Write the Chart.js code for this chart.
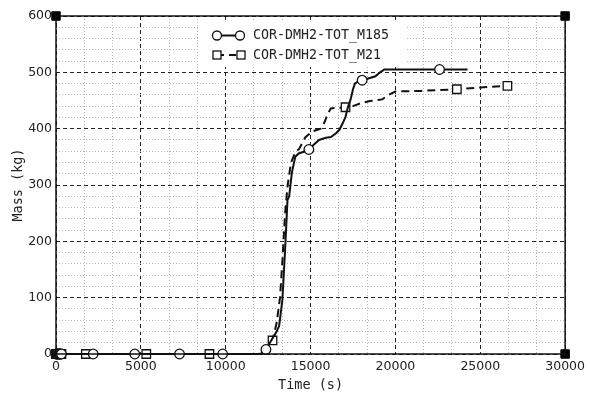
<!DOCTYPE html>
<html>
<head>
<meta charset="utf-8">
<script src="https://cdn.jsdelivr.net/npm/chart.js@4.4.0/dist/chart.umd.min.js"></script>
<style>
  html, body { margin: 0; padding: 0; background: #fff; }
  #wrap { width: 590px; height: 394px; }
</style>
</head>
<body>
<div id="wrap"><canvas id="mass-chart"></canvas></div>
<script>
// hydrogen mass curves, time in s, mass in kg
const seriesNames = ['COR-DMH2-TOT_M185', 'COR-DMH2-TOT_M21'];

const m185Time = [0, 40, 80, 120, 160, 200, 240, 280, 320, 2190, 4640, 7280, 9820, 11900, 12100, 12370, 12700,
    13000, 13150, 13340, 13500, 13640, 13740, 13900, 14100, 14300, 14600, 14900, 15200, 15500, 15900, 16200,
    16500, 16700, 16900, 17060, 17200, 17360, 17500, 17610, 17800, 18040, 18400, 18820, 19100, 19350, 22600, 24250];
const m185Mass = [0, 0, 0, 0, 0, 0, 0, 0, 0, 0, 0, 0, 0, 0, 1, 8, 25,
    40, 50, 96, 185, 273, 280, 322, 350, 356, 359, 363, 372, 380, 384, 385,
    392, 398, 410, 421, 438, 452, 470, 480, 484, 486, 489, 493, 500, 505, 505, 505];
const m185Markers = [0, 40, 80, 120, 160, 200, 240, 280, 320, 2190, 4640, 7280, 9820, 12370, 14900, 18040, 22600];

const m21Time = [0, 40, 80, 120, 160, 200, 240, 280, 320, 1760, 5320, 9040, 11950, 12200, 12500, 12760, 13000,
    13200, 13350, 13500, 13650, 13850, 14100, 14325, 14700, 15100, 15600, 15800, 16000, 16190, 16600, 17060,
    17500, 18040, 18500, 19220, 19600, 20000, 21500, 23620, 25000, 26600];
const m21Mass = [0, 0, 0, 0, 0, 0, 0, 0, 0, 0, 0, 0, 0, 2, 10, 24, 55,
    100, 170, 250, 300, 340, 358, 364, 385, 395, 400, 410, 425, 436, 437, 438,
    440, 446, 449, 452, 460, 466, 467, 470, 473, 476];
const m21Markers = [0, 40, 80, 120, 160, 200, 240, 280, 320, 1760, 5320, 9040, 12760, 17060, 23620, 26600];

// axis frame corners
const frameX = [0, 0, 30000, 30000];
const frameY = [0, 600, 600, 0];

const xMax = 30000, xMajor = 5000, xMinorPerMajor = 3;
const yMax = 600, yMajor = 100, yMinor = 20;

const toPoints = (xs, ys) => xs.map((x, i) => ({ x: x, y: ys[i] }));
const markerRadius = (marks, r) => ctx => (ctx.raw && marks.includes(ctx.raw.x)) ? r : 0;

const frame = {
    id: 'frame',
    afterDatasetsDraw(chart) {
        const { ctx, chartArea: a } = chart;
        ctx.save();
        ctx.strokeStyle = '#111';
        ctx.lineWidth = 1.5;
        ctx.strokeRect(a.left, a.top, a.right - a.left, a.bottom - a.top);
        ctx.restore();
    }
};

const keyBox = {
    id: 'keyBox',
    afterDraw(chart) {
        const ctx = chart.ctx;
        ctx.save();
        ctx.fillStyle = '#fff';
        ctx.fillRect(200, 22, 206, 45);
        ctx.strokeStyle = '#111';
        ctx.lineWidth = 2;
        // solid row
        ctx.beginPath();
        ctx.moveTo(217, 35.5); ctx.lineTo(240, 35.5);
        ctx.stroke();
        // dashed row
        ctx.setLineDash([7, 5]);
        ctx.beginPath();
        ctx.moveTo(217, 55); ctx.lineTo(241, 55);
        ctx.stroke();
        ctx.setLineDash([]);
        ctx.lineWidth = 1.3;
        ctx.fillStyle = '#fff';
        [217, 240].forEach(x => {
            ctx.beginPath();
            ctx.arc(x, 35.5, 4.5, 0, Math.PI * 2);
            ctx.fill(); ctx.stroke();
        });
        [217, 241].forEach(x => {
            ctx.fillRect(x - 4, 51, 8, 8);
            ctx.strokeRect(x - 4, 51, 8, 8);
        });
        ctx.fillStyle = '#222';
        ctx.font = '13.3px "DejaVu Sans Mono"';
        ctx.textBaseline = 'middle';
        ctx.fillText(seriesNames[0], 253, 36);
        ctx.fillText(seriesNames[1], 253, 55.5);
        ctx.restore();
    }
};

const isMajorX = v => Math.abs(v / xMajor - Math.round(v / xMajor)) < 1e-6;
const isMajorY = v => v % yMajor === 0;

new Chart(document.getElementById('mass-chart'), {
    type: 'line',
    data: {
        datasets: [{
            label: seriesNames[0],
            data: toPoints(m185Time, m185Mass),
            borderColor: '#111',
            borderWidth: 2,
            pointStyle: 'circle',
            pointRadius: markerRadius(m185Markers, 4.8),
            pointBackgroundColor: '#fff',
            pointBorderColor: '#111',
            pointBorderWidth: 1.3,
            tension: 0,
            fill: false,
            clip: false
        }, {
            label: seriesNames[1],
            data: toPoints(m21Time, m21Mass),
            borderColor: '#111',
            borderWidth: 2,
            borderDash: [8, 5],
            pointStyle: 'rect',
            pointRadius: markerRadius(m21Markers, 6),
            pointBackgroundColor: '#fff',
            pointBorderColor: '#111',
            pointBorderWidth: 1.3,
            tension: 0,
            fill: false,
            clip: false
        }, {
            label: 'frame',
            data: toPoints(frameX, frameY),
            showLine: false,
            pointStyle: 'rect',
            pointRadius: 6,
            pointBackgroundColor: '#000',
            pointBorderColor: '#000',
            clip: false
        }]
    },
    options: {
        responsive: true,
        maintainAspectRatio: false,
        animation: false,
        layout: { padding: { top: 16, right: 23, left: 0, bottom: 0 } },
        plugins: {
            legend: { display: false },
            tooltip: { enabled: false }
        },
        scales: {
            x: {
                type: 'linear',
                min: 0,
                max: xMax,
                afterBuildTicks: scale => {
                    const n = xMax / xMajor * xMinorPerMajor;
                    scale.ticks = Array.from({ length: n + 1 }, (_, k) => ({ value: k * xMajor / xMinorPerMajor }));
                },
                afterFit: scale => { scale.height = 40; },
                ticks: {
                    autoSkip: false,
                    maxRotation: 0,
                    padding: 5,
                    color: '#222',
                    font: { family: "'DejaVu Sans'", size: 12.5 },
                    callback: v => isMajorX(v) ? String(Math.round(v)) : ''
                },
                grid: {
                    drawTicks: false,
                    color: c => (c.tick && isMajorX(c.tick.value)) ? '#222' : '#b8b8b8',
                    lineWidth: 1
                },
                border: {
                    display: false,
                    dash: c => c.tick ? (isMajorX(c.tick.value) ? [4, 3] : [1, 2]) : []
                },
                title: {
                    display: true,
                    text: 'Time (s)',
                    color: '#222',
                    font: { family: "'DejaVu Sans Mono'", size: 13.5 },
                    padding: { top: 0, bottom: 0 }
                }
            },
            y: {
                type: 'linear',
                min: 0,
                max: yMax,
                afterBuildTicks: scale => {
                    scale.ticks = Array.from({ length: yMax / yMinor + 1 }, (_, k) => ({ value: k * yMinor }));
                },
                afterFit: scale => { scale.width = 56; },
                ticks: {
                    autoSkip: false,
                    padding: 4,
                    color: '#222',
                    font: { family: "'DejaVu Sans'", size: 12.5 },
                    callback: v => isMajorY(v) ? String(v) : ''
                },
                grid: {
                    drawTicks: false,
                    color: c => (c.tick && isMajorY(c.tick.value)) ? '#222' : '#b8b8b8',
                    lineWidth: 1
                },
                border: {
                    display: false,
                    dash: c => c.tick ? (isMajorY(c.tick.value) ? [4, 3] : [1, 2]) : []
                },
                title: {
                    display: true,
                    text: 'Mass (kg)',
                    color: '#222',
                    font: { family: "'DejaVu Sans Mono'", size: 13.5 },
                    padding: { top: 10, bottom: 0 }
                }
            }
        }
    },
    plugins: [frame, keyBox]
});
</script>
</body>
</html>
